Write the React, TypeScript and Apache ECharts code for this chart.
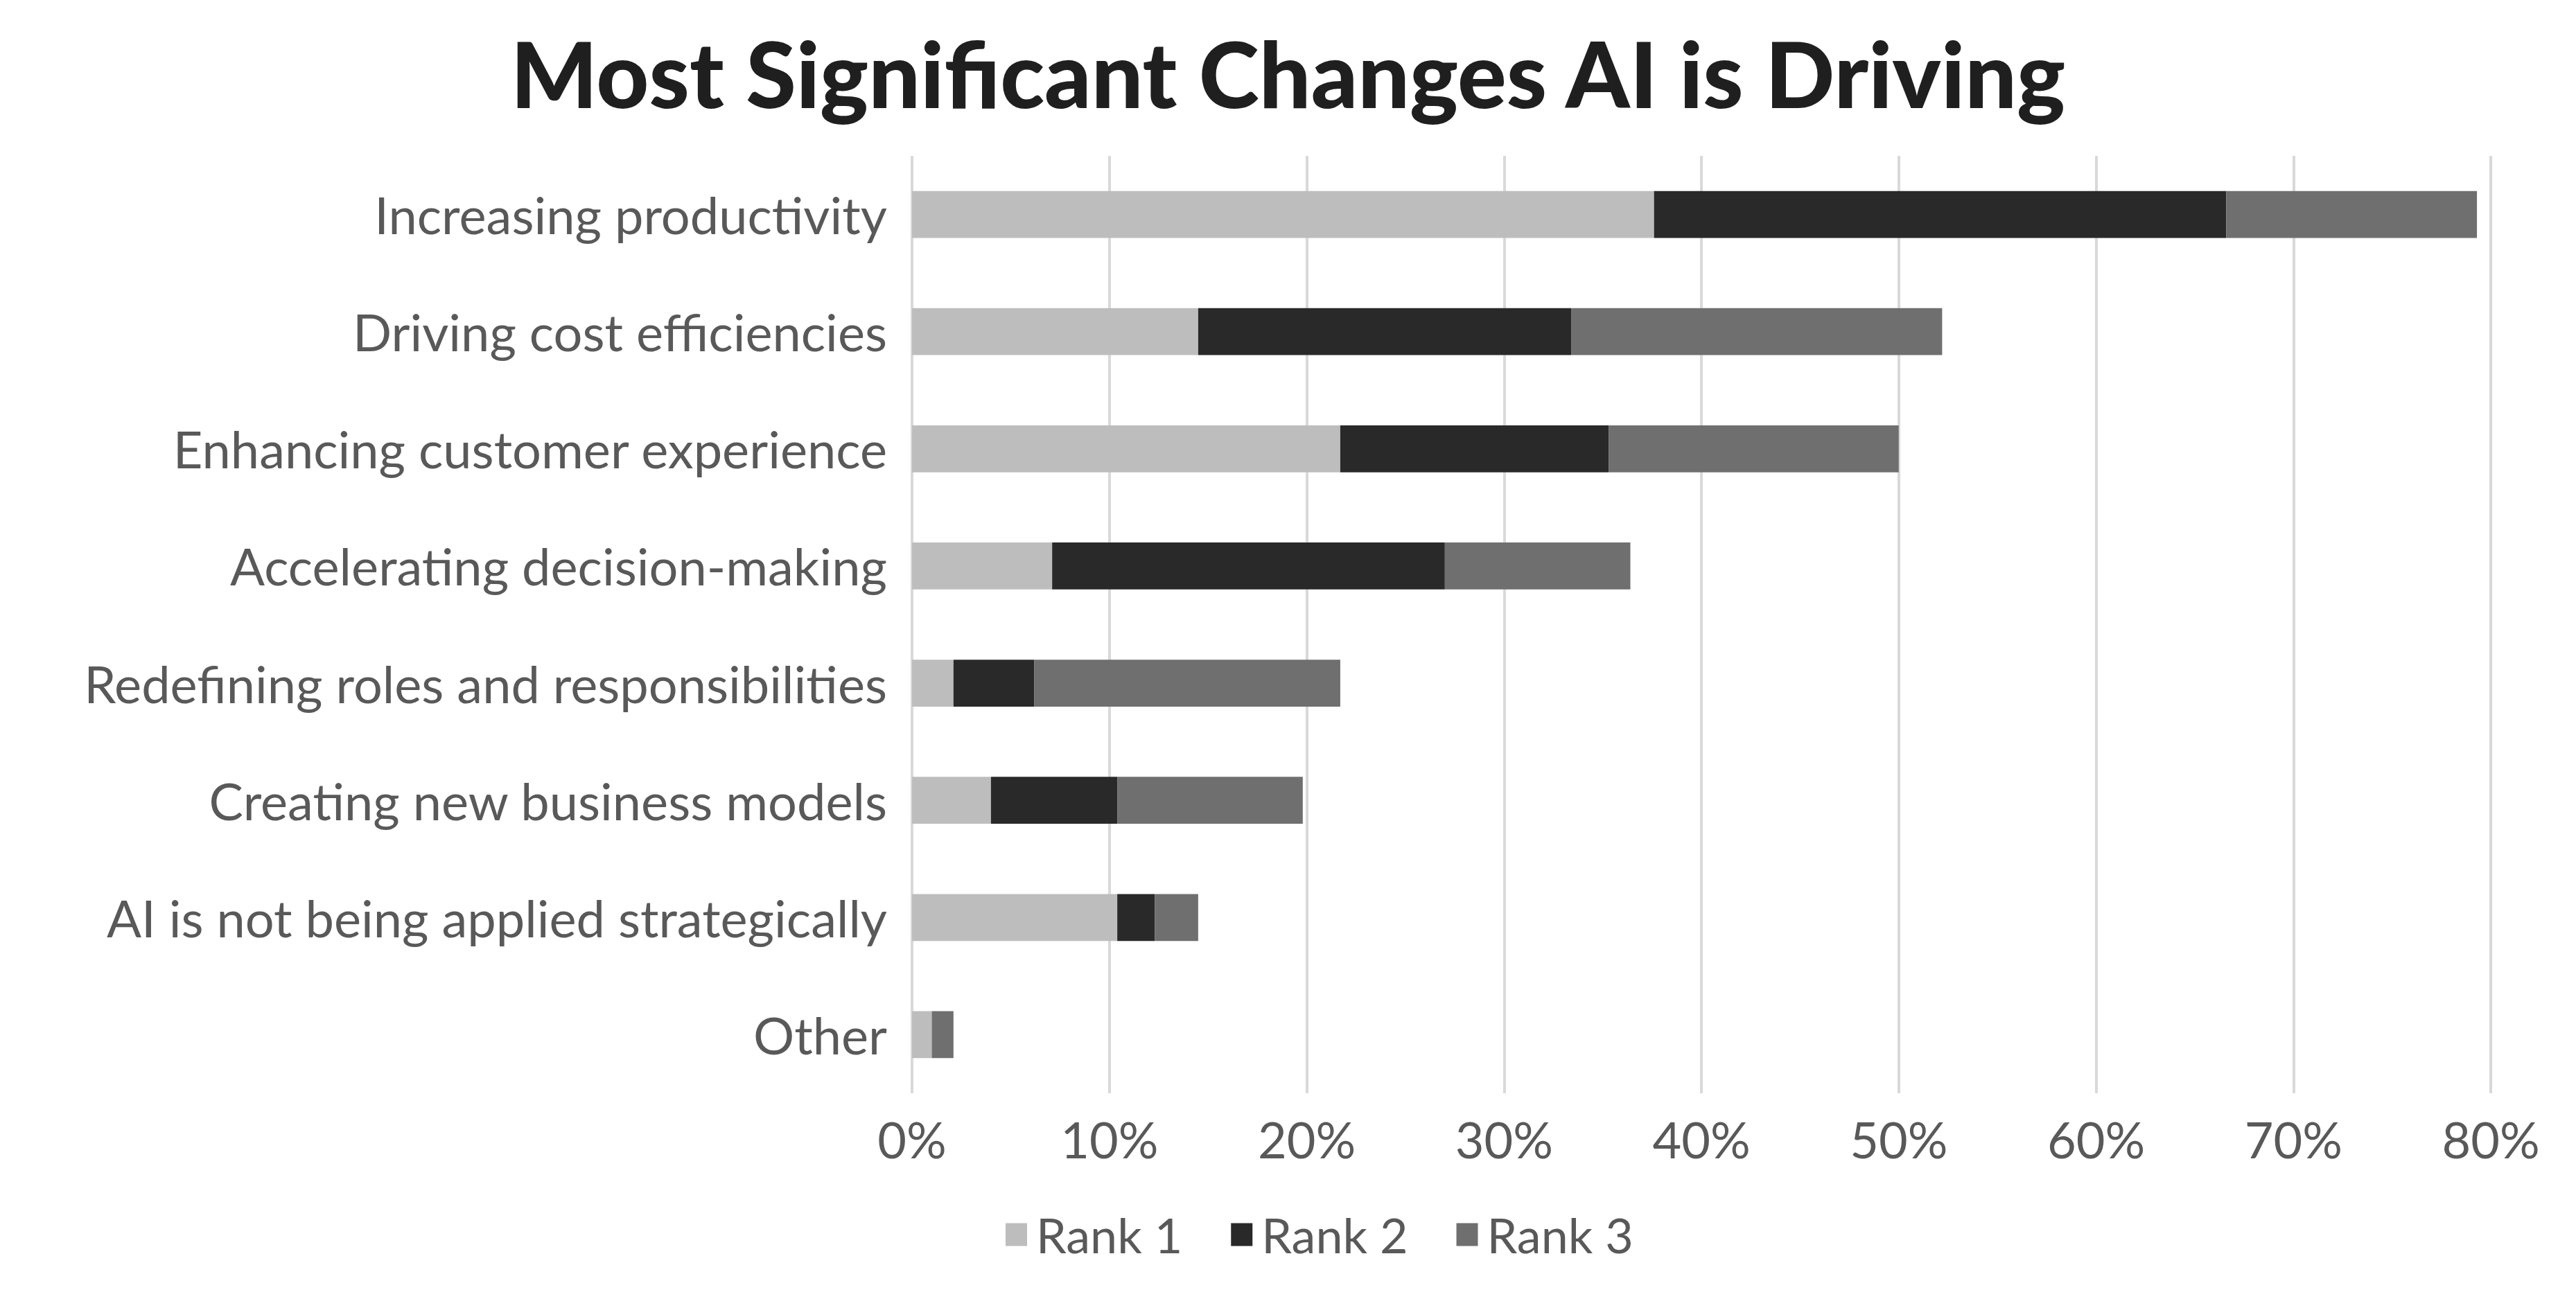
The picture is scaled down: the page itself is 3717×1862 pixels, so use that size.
import React, { useEffect, useRef } from "react";
import * as echarts from "echarts";

const categories = [
  "Increasing productivity",
  "Driving cost efficiencies",
  "Enhancing customer experience",
  "Accelerating decision-making",
  "Redefining roles and responsibilities",
  "Creating new business models",
  "AI is not being applied strategically",
  "Other",
];

const rank1 = [37.6, 14.5, 21.7, 7.1, 2.1, 4.0, 10.4, 1.0];
const rank2 = [29.0, 18.9, 13.6, 19.9, 4.1, 6.4, 1.9, 0];
const rank3 = [12.7, 18.8, 14.7, 9.4, 15.5, 9.4, 2.2, 1.1];

const seriesNames = ["Rank 1", "Rank 2", "Rank 3"];
const seriesColors = ["#bdbdbd", "#292929", "#6f6f6f"];

const FONT = "Lato, 'Open Sans', sans-serif";

const App: React.FC = () => {
  const chartRef = useRef<HTMLDivElement>(null);

  useEffect(() => {
    document.body.style.margin = "0";
    if (!chartRef.current) return;
    const chart = echarts.init(chartRef.current, undefined, { renderer: "svg" });

    const values = [rank1, rank2, rank3];

    chart.setOption({
      animation: false,
      backgroundColor: "#ffffff",
      title: {
        text: "Most Significant Changes AI is Driving",
        left: "center",
        top: 34,
        textStyle: {
          fontFamily: FONT,
          fontWeight: 900,
          fontSize: 132,
          color: "#1f1f1f",
        },
      },
      legend: {
        data: seriesNames,
        left: 1446,
        top: 1742,
        icon: "rect",
        itemWidth: 31,
        itemHeight: 33,
        itemGap: 70,
        textStyle: {
          fontFamily: FONT,
          fontSize: 70,
          color: "#595959",
          padding: [0, 0, 0, 8],
        },
      },
      grid: {
        left: 1316,
        right: 123,
        top: 225,
        bottom: 284,
        containLabel: false,
      },
      xAxis: {
        type: "value",
        min: 0,
        max: 80,
        interval: 10,
        axisLine: { show: false },
        axisTick: { show: false },
        axisLabel: {
          formatter: "{value}%",
          fontFamily: FONT,
          fontSize: 72,
          color: "#595959",
          margin: 30,
        },
        splitLine: { lineStyle: { color: "#d9d9d9", width: 4 } },
      },
      yAxis: {
        type: "category",
        data: categories,
        inverse: true,
        axisLine: { show: false },
        axisTick: { show: false },
        axisLabel: {
          fontFamily: FONT,
          fontSize: 74,
          color: "#595959",
          margin: 36,
          padding: [0, 0, 6, 0],
        },
      },
      series: seriesNames.map((name, i) => ({
        name,
        type: "bar",
        stack: "total",
        barWidth: "40%",
        data: values[i],
        itemStyle: { color: seriesColors[i] },
      })),
    });

    return () => {
      chart.dispose();
    };
  }, []);

  return <div ref={chartRef} style={{ width: 3717, height: 1862 }} />;
};

export default App;
